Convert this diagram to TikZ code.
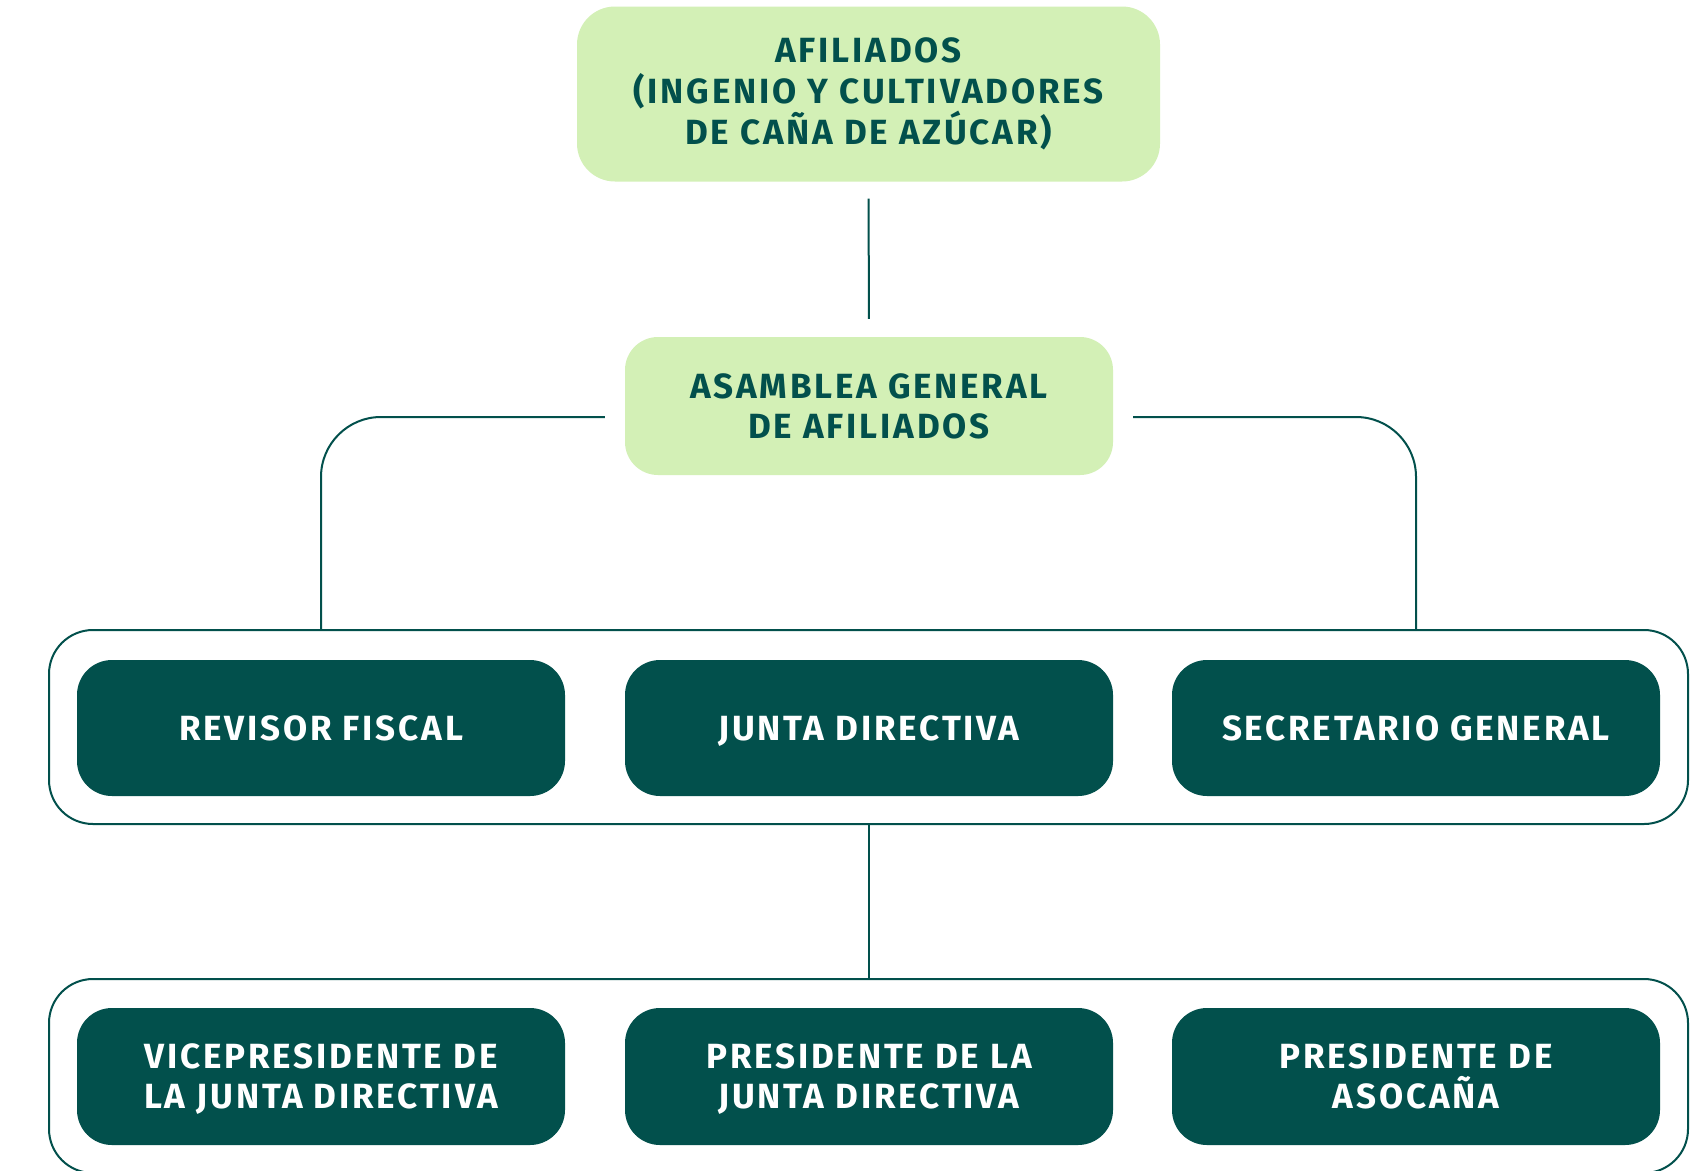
\documentclass[tikz,border=0pt]{standalone}
\usepackage{fontspec}
\setmainfont{Fira Sans}[LetterSpace=8]
\definecolor{dteal}{HTML}{02504C}
\definecolor{lgreen}{HTML}{D3F0B6}
\begin{document}
\begin{tikzpicture}[x=1pt,y=-1pt,
  boxfont/.style={font=\fontsize{35}{40}\selectfont\bfseries},
  lbox/.style={boxfont, fill=lgreen, text=dteal, align=center, inner sep=0pt},
  dbox/.style={boxfont, fill=dteal, text=white, align=center, inner sep=0pt,
    text depth=0pt, minimum width=488pt, minimum height=136pt, rounded corners=35pt},
  frame/.style={draw=dteal, line width=2pt, rounded corners=44pt, inner sep=0pt,
    minimum width=1639pt},
  conn/.style={draw=dteal, line width=2pt}]
\useasboundingbox (0,0) rectangle (1707,1170);
\fill[white] (0,0) rectangle (1707,1170);
% frames
\node[frame, minimum height=194pt] (f1) at (868.5,727) {};
\node[frame, minimum height=194pt] (f2) at (868.5,1076) {};
% green boxes
\node[lbox, font=\fontsize{35}{41}\selectfont\bfseries, minimum width=583pt, minimum height=175pt, rounded corners=38pt] (afil) at (868.5,94)
  {AFILIADOS\\(INGENIO Y CULTIVADORES\\DE CAÑA DE AZÚCAR)};
\node[lbox, minimum width=488pt, minimum height=138pt, rounded corners=33pt] (asam) at (869,406)
  {ASAMBLEA GENERAL\\DE AFILIADOS};
% row 1
\node[dbox] (rf) at (321,728) {REVISOR FISCAL};
\node[dbox] (jd) at (869,728) {JUNTA DIRECTIVA};
\node[dbox] (sg) at (1416,728) {SECRETARIO GENERAL};
% row 2
\node[dbox, minimum height=137pt] (vp) at (321,1076.5) {VICEPRESIDENTE DE\\LA JUNTA DIRECTIVA};
\node[dbox, minimum height=137pt] (pj) at (869,1076.5) {PRESIDENTE DE LA\\JUNTA DIRECTIVA};
\node[dbox, minimum height=137pt] (pa) at (1416,1076.5) {PRESIDENTE DE\\ASOCAÑA};
% connectors
\draw[conn, shorten <=17pt, shorten >=18pt] (afil.south) -- (asam.north);
\draw[conn, rounded corners=60pt] ([xshift=-20pt,yshift=-11pt]asam.west) -| (rf.center |- f1.north);
\draw[conn, rounded corners=60pt] ([xshift=20pt,yshift=-11pt]asam.east) -| (sg.center |- f1.north);
\draw[conn] (f1.south) -- (f2.north);
\end{tikzpicture}
\end{document}
